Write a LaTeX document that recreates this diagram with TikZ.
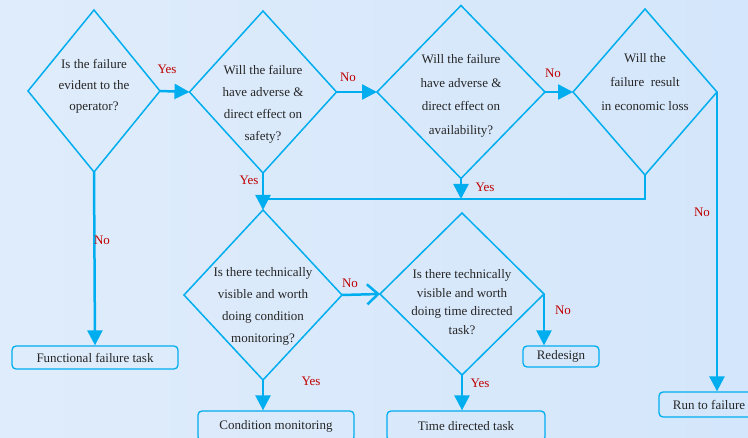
\documentclass[tikz,border=0pt]{standalone}
\usepackage{fontspec}
\setmainfont{Liberation Serif}
\usetikzlibrary{shapes.geometric,arrows.meta}
\definecolor{flowblue}{RGB}{0,174,239}
\definecolor{bgleft}{RGB}{223,236,251}
\definecolor{bgright}{RGB}{212,230,251}
\definecolor{answer}{RGB}{192,0,0}

\begin{document}
\begin{tikzpicture}[x=1pt, y=-1pt,
	decision/.style={draw=flowblue, line width=1.5pt, diamond, inner sep=0pt, outer sep=0pt},
	qtext/.style={align=center, text=black!85},
	task/.style={draw=flowblue, line width=1.3pt, rounded corners=4pt, inner sep=0pt, text=black!85, font=\fontsize{13}{15}\selectfont},
	flow/.style={draw=flowblue, line width=2.5pt, -{Triangle[length=15pt,width=15pt]}},
	ans/.style={text=answer, inner sep=0pt, font=\fontsize{13}{15}\selectfont}]
	\shade[left color=bgleft, right color=bgright] (0,0) rectangle (748,438);
	\useasboundingbox (0,0) rectangle (748,438);
	\clip (0,0) rectangle (748,438);

	\node[decision, minimum width=132pt, minimum height=162pt] (q1) at (94,91) {};
	\node[decision, minimum width=147pt, minimum height=162pt] (q2) at (263,92) {};
	\node[decision, minimum width=168pt, minimum height=173pt] (q3) at (461,92) {};
	\node[decision, minimum width=144pt, minimum height=166pt] (q4) at (645,92) {};
	\node[decision, minimum width=158pt, minimum height=170pt] (q5) at (263,295) {};
	\node[decision, minimum width=164pt, minimum height=162pt] (q6) at (462,294) {};

	\node[qtext, font=\fontsize{13}{21}\selectfont, yshift=5pt] (q1txt) at (q1) {Is the failure\\evident to the\\operator?};
	\node[qtext, font=\fontsize{13}{22}\selectfont, yshift=-12pt] (q2txt) at (q2) {Will the failure\\have adverse \&\\direct effect on\\safety?};
	\node[qtext, font=\fontsize{13}{23.5}\selectfont, yshift=-4pt] (q3txt) at (q3) {Will the failure\\have adverse \&\\direct effect on\\availability?};
	\node[qtext, font=\fontsize{13}{24}\selectfont, yshift=10pt] (q4txt) at (q4) {Will the\\failure~ result\\in economic loss};
	\node[qtext, font=\fontsize{13}{22}\selectfont, yshift=-11pt] (q5txt) at (q5) {Is there technically\\visible and worth\\doing condition\\monitoring?};
	\node[qtext, font=\fontsize{13}{18.5}\selectfont, yshift=-8pt] (q6txt) at (q6) {Is there technically\\visible and worth\\doing time directed\\task?};

	\node[task, minimum width=166pt, minimum height=23pt] (fft) at (95,357.5) {Functional failure task};
	\node[task, minimum width=156pt, minimum height=30pt] (cm) at (276,426) {Condition monitoring};
	\node[task, minimum width=158pt, minimum height=30pt] (tdt) at (466,426) {Time directed task};
	\node[task, minimum width=76pt, minimum height=21pt] (rd) at (561,356.5) {Redesign};
	\node[task, minimum width=100pt, minimum height=25pt] (rf) at (709,404.5) {Run to failure};

	\coordinate (m1) at (263,199);
	\coordinate (m2) at (q3.south |- m1);

	\draw[flow] (q1.east) -- (q2.west);
	\draw[flow] (q2.east) -- (q3.west);
	\draw[flow] (q3.east) -- (q4.west);
	\draw[flow] (q1.south) -- (fft.north);
	\draw[flow] (q2.south) -- (q5.north);
	\draw[flow] (q3.south) -- (m2);
	\draw[draw=flowblue, line width=1.5pt] (q4.south) |- (m1);
	\draw[flow] (q4.east) -- (q4.east |- rf.north);
	\draw[draw=flowblue, line width=2.5pt, -{Straight Barb[length=11pt,width=20pt]}] (q5.east) -- (q6.west);
	\draw[flow] (q5.south) -- (q5.south |- cm.north);
	\draw[flow] (q6.south) -- (q6.south |- tdt.north);
	\draw[flow] (q6.east) -- (q6.east |- rd.north);

	\node[ans] (a1) at (167,69) {Yes};
	\node[ans] (a2) at (348,77) {No};
	\node[ans] (a3) at (553,73) {No};
	\node[ans] (a4) at (249,180) {Yes};
	\node[ans] (a5) at (485,187) {Yes};
	\node[ans] (a6) at (702,212) {No};
	\node[ans] (a7) at (102,240) {No};
	\node[ans] (a8) at (350,283) {No};
	\node[ans] (a9) at (563,310) {No};
	\node[ans] (a10) at (311,381) {Yes};
	\node[ans] (a11) at (480,383) {Yes};
\end{tikzpicture}
\end{document}
